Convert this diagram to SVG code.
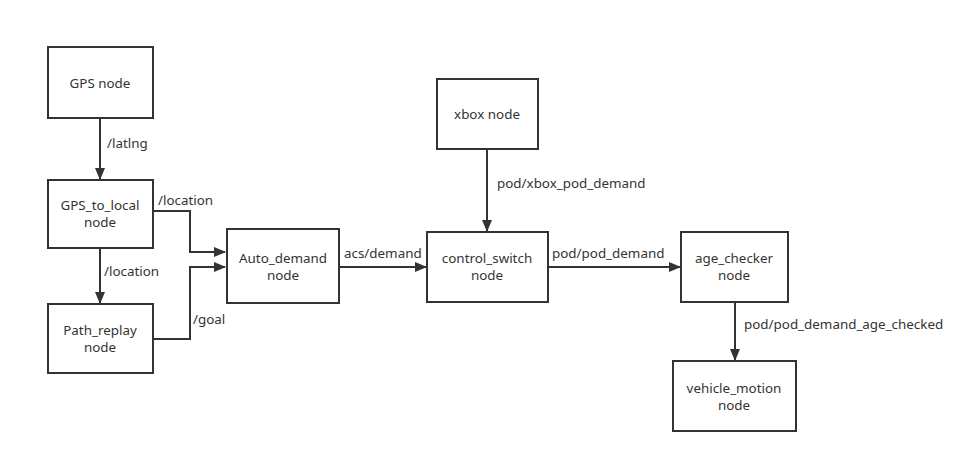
<svg xmlns="http://www.w3.org/2000/svg" width="979" height="463" viewBox="0 0 979 463">
<style>
rect.n{fill:#fff;stroke:#333;stroke-width:2}
text{font-family:"Noto Sans","Open Sans",sans-serif;font-size:13.4px;fill:#333}
.c{text-anchor:middle}
.e{fill:none;stroke:#333;stroke-width:2}
</style>
<defs>
<marker id="a" markerWidth="12" markerHeight="12" refX="11" refY="6" orient="auto" markerUnits="userSpaceOnUse" viewBox="0 0 12 12">
<path d="M0,1 L12,6 L0,11 Z" fill="#333"/>
</marker>
</defs>
<rect width="979" height="463" fill="#fff"/>
<g id="edges">
<path class="e" d="M100,118 V179" marker-end="url(#a)"/>
<path class="e" d="M153,211 H190 V252 H225" marker-end="url(#a)"/>
<path class="e" d="M100,248 V303" marker-end="url(#a)"/>
<path class="e" d="M153,339 H190 V267 H225" marker-end="url(#a)"/>
<path class="e" d="M339,267 H426" marker-end="url(#a)"/>
<path class="e" d="M487,149 V231" marker-end="url(#a)"/>
<path class="e" d="M548,267 H680" marker-end="url(#a)"/>
<path class="e" d="M735,302 V360" marker-end="url(#a)"/>
<text x="107" y="148">/latlng</text>
<text x="158" y="205">/location</text>
<text x="104" y="276">/location</text>
<text x="193" y="324">/goal</text>
<text x="344" y="258">acs/demand</text>
<text x="497" y="188">pod/xbox_pod_demand</text>
<text x="552" y="258">pod/pod_demand</text>
<text x="744" y="329">pod/pod_demand_age_checked</text>
</g>
<g id="gps"><rect class="n" x="48" y="47" width="105" height="71"/><text class="c" x="100" y="88">GPS node</text></g>
<g id="gps_to_local"><rect class="n" x="48" y="180" width="105" height="68"/><text class="c" x="100" y="210">GPS_to_local</text><text class="c" x="100" y="227">node</text></g>
<g id="path_replay"><rect class="n" x="48" y="304" width="105" height="69"/><text class="c" x="100" y="335">Path_replay</text><text class="c" x="100" y="352">node</text></g>
<g id="auto_demand"><rect class="n" x="227" y="229" width="112" height="74"/><text class="c" x="283" y="263">Auto_demand</text><text class="c" x="283" y="280">node</text></g>
<g id="xbox"><rect class="n" x="437" y="79" width="101" height="70"/><text class="c" x="487" y="119">xbox node</text></g>
<g id="control_switch"><rect class="n" x="427" y="232" width="121" height="70"/><text class="c" x="487" y="263">control_switch</text><text class="c" x="487" y="280">node</text></g>
<g id="age_checker"><rect class="n" x="681" y="232" width="107" height="70"/><text class="c" x="734" y="263">age_checker</text><text class="c" x="734" y="280">node</text></g>
<g id="vehicle_motion"><rect class="n" x="673" y="361" width="123" height="70"/><text class="c" x="734" y="393">vehicle_motion</text><text class="c" x="734" y="410">node</text></g>
</svg>
